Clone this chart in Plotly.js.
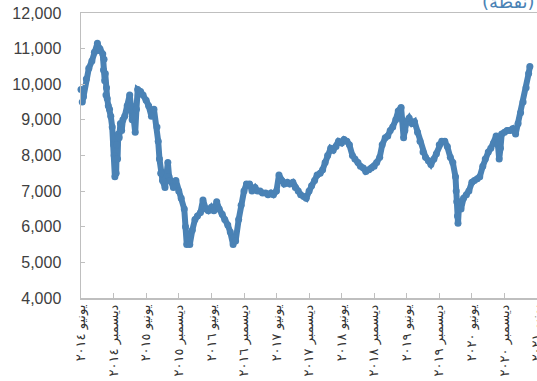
<!DOCTYPE html>
<html><head><meta charset="utf-8">
<script src="https://cdn.plot.ly/plotly-3.0.1.min.js"></script>
<style>html,body{margin:0;padding:0;background:#fff}#chart{width:537px;height:381px}</style>
</head><body><div id="chart"></div>
<script>
const dates = [
"2014-06-01","2014-06-08","2014-06-15","2014-07-01","2014-07-15","2014-08-01","2014-08-15","2014-09-01","2014-09-08","2014-09-15","2014-10-01","2014-10-05","2014-10-08","2014-10-12","2014-10-15","2014-10-19","2014-10-22","2014-10-26","2014-11-01","2014-11-08","2014-11-15","2014-11-23","2014-12-01","2014-12-04","2014-12-08","2014-12-11","2014-12-15","2014-12-19","2014-12-23","2014-12-27",
"2015-01-01","2015-01-08","2015-01-15","2015-01-22","2015-02-01","2015-02-15","2015-03-01","2015-03-08","2015-03-15","2015-03-22","2015-04-01","2015-04-08","2015-04-15","2015-05-01","2015-05-15","2015-06-01","2015-06-15","2015-07-01","2015-07-15","2015-08-01","2015-08-08","2015-08-15","2015-08-22","2015-09-01","2015-09-15","2015-10-01","2015-10-08","2015-10-15","2015-11-01","2015-11-15","2015-12-01","2015-12-15",
"2016-01-01","2016-01-08","2016-01-15","2016-01-22","2016-02-01","2016-02-15","2016-03-01","2016-03-15","2016-04-01","2016-04-15","2016-05-01","2016-05-15","2016-06-01","2016-06-15","2016-07-01","2016-07-15","2016-08-01","2016-08-15","2016-09-01","2016-09-15","2016-10-01","2016-10-08","2016-10-15","2016-11-01","2016-11-15","2016-12-01","2016-12-15",
"2017-01-01","2017-01-15","2017-02-01","2017-02-15","2017-03-01","2017-03-15","2017-04-01","2017-04-15","2017-05-01","2017-05-15","2017-06-01","2017-06-15","2017-07-01","2017-07-15","2017-08-01","2017-08-15","2017-09-01","2017-09-15","2017-10-01","2017-10-15","2017-11-01","2017-11-15","2017-12-01","2017-12-15",
"2018-01-01","2018-01-15","2018-02-01","2018-02-15","2018-03-01","2018-03-15","2018-04-01","2018-04-15","2018-05-01","2018-05-15","2018-06-01","2018-06-15","2018-07-01","2018-07-15","2018-08-01","2018-08-15","2018-09-01","2018-09-15","2018-10-01","2018-10-15","2018-11-01","2018-11-15","2018-12-01","2018-12-15",
"2019-01-01","2019-01-15","2019-02-01","2019-02-15","2019-03-01","2019-03-15","2019-04-01","2019-04-15","2019-05-01","2019-05-08","2019-05-15","2019-05-22","2019-06-01","2019-06-15","2019-07-01","2019-07-15","2019-08-01","2019-08-15","2019-09-01","2019-09-15","2019-10-01","2019-10-15","2019-11-01","2019-11-15","2019-12-01","2019-12-15",
"2020-01-01","2020-01-15","2020-02-01","2020-02-15","2020-03-01","2020-03-05","2020-03-08","2020-03-12","2020-03-15","2020-03-22","2020-04-01","2020-04-15","2020-05-01","2020-05-15","2020-06-01","2020-06-15","2020-07-01","2020-07-15","2020-08-01","2020-08-15","2020-09-01","2020-09-15","2020-10-01","2020-10-15","2020-10-25","2020-11-01","2020-11-08","2020-11-15","2020-12-01","2020-12-15",
"2021-01-01","2021-01-15","2021-02-01","2021-02-15","2021-03-01","2021-03-15","2021-04-01","2021-04-15","2021-04-22"
];
const values = [
9850,9500,9650,10150,10450,10650,10900,11150,10950,11000,10850,10400,10700,10100,10300,9700,9900,9600,9400,9300,9100,8800,8300,8000,7400,7900,7500,8300,7900,8600,
8500,8900,8700,9000,9100,9400,9700,9400,9000,9100,8650,9300,9850,9800,9700,9550,9400,9100,9300,8800,8400,7900,7500,7300,7100,7800,7400,7300,7100,7300,7000,6800,
6500,6000,5500,5800,5500,5900,6200,6300,6400,6750,6500,6450,6550,6450,6700,6500,6350,6200,6050,5850,5500,5700,5600,6200,6600,7000,7200,
7200,7000,7100,7000,7000,6950,6950,6900,6950,6900,7000,7450,7300,7200,7250,7200,7250,7100,7000,6900,6850,6800,7000,7150,
7300,7450,7500,7600,7800,8000,8200,8150,8250,8400,8350,8450,8400,8300,8000,7900,7800,7700,7650,7550,7600,7650,7700,7800,
7950,8300,8500,8550,8700,8800,9000,9250,9350,9000,8500,8700,8950,9050,8900,8950,8650,8400,8100,7950,7850,7750,7900,8050,8300,8400,
8400,8250,7950,7800,7400,7000,6700,6300,6100,6700,6500,6800,6900,7000,7250,7300,7350,7400,7700,7900,8100,8200,8350,8550,8300,7900,8200,8600,8650,8700,
8700,8750,8600,8900,9200,9500,9900,10300,10500
];
const tickDates = ["2014-06-01","2014-12-01","2015-06-01","2015-12-01","2016-06-01","2016-12-01","2017-06-01","2017-12-01","2018-06-01","2018-12-01","2019-06-01","2019-12-01","2020-06-01","2020-12-01","2021-06-01"];
const tickLabels = ["يونيو ٢٠١٤","ديسمبر ٢٠١٤","يونيو ٢٠١٥","ديسمبر ٢٠١٥","يونيو ٢٠١٦","ديسمبر ٢٠١٦","يونيو ٢٠١٧","ديسمبر ٢٠١٧","يونيو ٢٠١٨","ديسمبر ٢٠١٨","يونيو ٢٠١٩","ديسمبر ٢٠١٩","يونيو ٢٠٢٠","ديسمبر ٢٠٢٠","يونيو ٢٠٢١"];
const unitLabel = "(نقطة)";

const trace = {
  x: dates, y: values, type: "scatter", mode: "lines+markers",
  line: {color: "#4A82B5", width: 6},
  marker: {color: "#4A82B5", size: 7, line: {width: 0}},
  hoverinfo: "skip", cliponaxis: false
};
const layout = {
  width: 537, height: 381,
  margin: {l: 81, r: 0, t: 13, b: 83},
  paper_bgcolor: "#fff", plot_bgcolor: "#fff",
  showlegend: false,
  xaxis: {
    type: "date", range: ["2014-06-01", "2021-06-01"],
    tickmode: "array", tickvals: tickDates, ticktext: tickLabels,
    tickangle: -90, ticks: "inside", ticklen: 5, tickcolor: "#BFBFBF",
    ticklabeloverflow: "allow",
    showgrid: false, zeroline: false,
    showline: true, linecolor: "#BFBFBF", linewidth: 1.5, mirror: true,
    tickfont: {family: "DejaVu Sans", size: 13, color: "#333333"}
  },
  yaxis: {
    range: [4000, 12000], dtick: 1000, tick0: 4000, tickformat: ",",
    ticks: "inside", ticklen: 4, tickcolor: "#BFBFBF",
    showgrid: false, zeroline: false,
    showline: true, linecolor: "#BFBFBF", linewidth: 1.5,
    ticklabelstandoff: 15,
    tickfont: {family: "Liberation Sans", size: 16, color: "#404040"}
  },
  annotations: [{
    text: unitLabel, xref: "paper", yref: "paper", x: 1, y: 1.04,
    xanchor: "right", yanchor: "middle", showarrow: false,
    font: {family: "DejaVu Sans", size: 18, color: "#4A82B5"}
  }]
};
Plotly.newPlot("chart", [trace], layout, {staticPlot: true, displayModeBar: false});
</script></body></html>
